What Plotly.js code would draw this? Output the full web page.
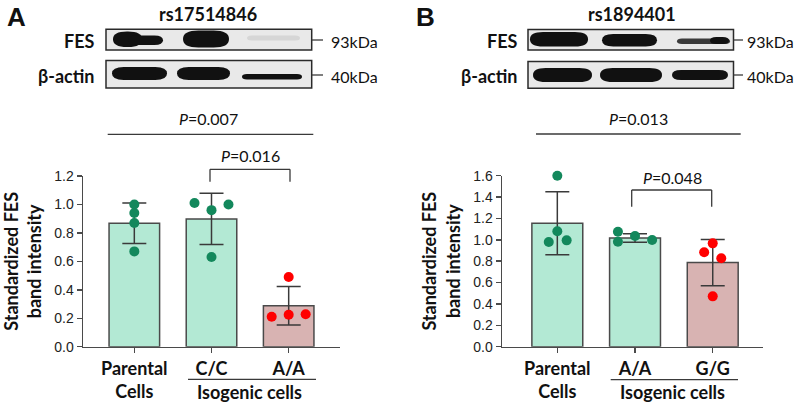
<!DOCTYPE html>
<html>
<head>
<meta charset="utf-8">
<script src="https://cdn.plot.ly/plotly-3.0.1.min.js"></script>
<style>html,body{margin:0;padding:0;background:#fff;}#chart{width:800px;height:402px;}</style>
</head>
<body>
<div id="chart"></div>
<script>
// ---------- data ----------
const titlesA = 'rs17514846';
const titlesB = 'rs1894401';
const catLabelsA = ['Parental<br>Cells', 'C/C', 'A/A'];
const catLabelsB = ['Parental<br>Cells', 'A/A', 'G/G'];
const meanA = [0.868, 0.898, 0.288];
const sdA = [0.143, 0.180, 0.136];
const meanB = [1.155, 1.018, 0.787];
const sdB = [0.295, 0.040, 0.217];
// individual points (per group)
const ptsA = [
  [1.00, 0.94, 0.87, 0.67],
  [1.01, 0.96, 1.00, 0.63],
  [0.49, 0.21, 0.225, 0.228]
];
const ptsB = [
  [1.60, 1.08, 0.98, 0.995],
  [1.076, 0.982, 1.035, 0.998],
  [0.883, 0.967, 0.827, 0.471]
];
const pTopA = '0.007', pPairA = '0.016';
const pTopB = '0.013', pPairB = '0.048';
const blotLabels = ['FES', 'β-actin'];
const kDaLabels = ['93kDa', '40kDa'];

// ---------- styles ----------
const W = 800, H = 402;
const px = x => x / W;
const py = y => 1 - y / H;
const MINT = '#b3e9d4', PINK = '#d8b3b2', GREEN = '#13885c', RED = '#ff0000';
const DARK = '#3a3a3a';
const BOLD = 'Lato, "Open Sans", sans-serif';
const ARIAL = '"Liberation Sans", Arial, sans-serif';
// horizontal jitter of the dots within each bar (category units)
const jitA = [[0, 0, 0, 0], [-0.22, 0, 0.22, 0], [0, -0.22, 0, 0.22]];
const jitB = [[0, 0, -0.11, 0.12], [-0.22, -0.22, 0, 0.22], [-0.11, 0, 0.11, 0]];

function barTrace(means, sds, xa, ya) {
  return {
    type: 'bar', x: [0, 1, 2], y: means, xaxis: xa, yaxis: ya, width: 0.655,
    marker: {color: [MINT, MINT, PINK], line: {color: '#4a4a4a', width: 1.5}},
    error_y: {type: 'data', array: sds, visible: true, color: DARK, thickness: 1.5, width: 12},
    hoverinfo: 'skip'
  };
}
function dotTraces(pts, jit, xa, ya) {
  return pts.map((g, i) => ({
    type: 'scatter', mode: 'markers', xaxis: xa, yaxis: ya,
    x: g.map((v, j) => i + jit[i][j]), y: g,
    marker: {size: 10, color: i === 2 ? RED : GREEN, line: {width: 0}},
    cliponaxis: false, hoverinfo: 'skip'
  }));
}

const data = [
  barTrace(meanA, sdA, 'x', 'y'),
  ...dotTraces(ptsA, jitA, 'x', 'y'),
  barTrace(meanB, sdB, 'x2', 'y2'),
  ...dotTraces(ptsB, jitB, 'x2', 'y2')
];

function xax(domain, range, labels) {
  return {
    domain: domain, range: range, tickvals: [0, 1, 2], ticktext: labels,
    ticks: 'outside', ticklen: 5, tickwidth: 1.5, tickcolor: '#4a4a4a',
    showline: true, linecolor: '#4a4a4a', linewidth: 1.5, showgrid: false, zeroline: false,
    tickfont: {family: BOLD, size: 18, weight: 'bold', color: '#111'}, fixedrange: true
  };
}
function yax(domain, range, anchor) {
  return {
    domain: domain, range: range, dtick: 0.2, tickformat: '.1f', anchor: anchor,
    ticks: 'outside', ticklen: 5, tickwidth: 1.5, tickcolor: '#4a4a4a',
    showline: true, linecolor: '#4a4a4a', linewidth: 1.5, showgrid: false, zeroline: false,
    tickfont: {family: ARIAL, size: 14, color: '#222'},
    title: {text: 'Standardized FES<br>band intensity', standoff: 8,
            font: {family: BOLD, size: 18, weight: 'bold', color: '#111'}},
    fixedrange: true
  };
}

const shapes = [];
const annotations = [];
function line(x0, y0, x1, y1) {
  shapes.push({type: 'line', xref: 'paper', yref: 'paper', x0: px(x0), y0: py(y0), x1: px(x1), y1: py(y1),
               line: {color: DARK, width: 1.3}});
}
function box(x0, y0, x1, y1) {
  shapes.push({type: 'rect', xref: 'paper', yref: 'paper', x0: px(x0), y0: py(y0), x1: px(x1), y1: py(y1),
               fillcolor: '#e9e9e9', line: {color: '#2a2a2a', width: 1.5}, layer: 'below'});
}
function band(x0, y0, x1, y1, color) {
  const r = Math.min((x1 - x0) / 2, (y1 - y0) * 0.9), ym = (y0 + y1) / 2;
  const P = (x, y) => px(x) + ',' + py(y);
  const path = 'M' + P(x0 + r, y0) + ' L' + P(x1 - r, y0) + ' Q' + P(x1, y0) + ' ' + P(x1, ym) +
    ' Q' + P(x1, y1) + ' ' + P(x1 - r, y1) + ' L' + P(x0 + r, y1) + ' Q' + P(x0, y1) + ' ' + P(x0, ym) +
    ' Q' + P(x0, y0) + ' ' + P(x0 + r, y0) + ' Z';
  shapes.push({type: 'path', xref: 'paper', yref: 'paper', path: path, fillcolor: color || '#111',
               line: {width: 0}, layer: 'below'});
}
function text(t, x, y, opts) {
  annotations.push(Object.assign({text: t, xref: 'paper', yref: 'paper', x: px(x), y: py(y),
    showarrow: false, xanchor: 'center', yanchor: 'middle',
    font: {family: BOLD, size: 16, color: '#111'}}, opts || {}));
}

// ---- panel A decorations ----
text('A', 16, 17, {font: {family: ARIAL, size: 26, weight: 'bold', color: '#111'}});
text(titlesA, 208, 1, {yanchor: 'top', font: {family: BOLD, size: 18, weight: 'bold', color: '#111'}});
box(106, 29.3, 311.7, 50);
box(106, 60.5, 311.7, 88);
band(113, 31.5, 142, 47); band(128, 35.5, 163, 45); band(183, 30.5, 229, 47.5);
band(247, 35.5, 300, 40.5, '#d6d6d6');
band(112, 67, 167, 80); band(177, 67, 230, 80); band(242, 74, 302, 79.5);
line(311.7, 40, 323, 40); line(311.7, 75, 323, 75);
text(blotLabels[0], 96.7, 41, {xanchor: 'right', font: {family: BOLD, size: 18, weight: 'bold', color: '#111'}});
text(blotLabels[1], 96.7, 76, {xanchor: 'right', font: {family: BOLD, size: 18, weight: 'bold', color: '#111'}});
text(kDaLabels[0], 329, 41, {xanchor: 'left', font: {family: BOLD, size: 16, color: '#111'}});
text(kDaLabels[1], 329, 76, {xanchor: 'left', font: {family: BOLD, size: 16, color: '#111'}});
text('<i>P</i>=' + pTopA, 208, 118);
line(107.7, 134.3, 313.3, 134.3);
text('<i>P</i>=' + pPairA, 250, 155);
line(210, 181.7, 210, 169.3); line(210, 169.3, 290, 169.3); line(290, 169.3, 290, 181.7);
line(188, 379.3, 316, 379.3);
text('Isogenic cells', 249, 391.5, {font: {family: BOLD, size: 18, weight: 'bold', color: '#111'}});

// ---- panel B decorations ----
text('B', 425, 17, {font: {family: ARIAL, size: 26, weight: 'bold', color: '#111'}});
text(titlesB, 632, 1, {yanchor: 'top', font: {family: BOLD, size: 18, weight: 'bold', color: '#111'}});
box(528, 29.5, 733.5, 50);
box(528, 61.5, 733.5, 88.3);
band(530, 32, 588, 46.5); band(602, 34, 657, 46.5); band(677, 38.5, 730, 44, '#3a3a3a');
band(710, 37, 729, 44);
band(533, 68, 592, 82); band(600, 68, 662, 82); band(672, 70, 728, 80);
line(733.5, 40, 743, 40); line(733.5, 75, 743, 75);
text(blotLabels[0], 520, 41, {xanchor: 'right', font: {family: BOLD, size: 18, weight: 'bold', color: '#111'}});
text(blotLabels[1], 520, 76, {xanchor: 'right', font: {family: BOLD, size: 18, weight: 'bold', color: '#111'}});
text(kDaLabels[0], 745, 41, {xanchor: 'left', font: {family: BOLD, size: 16, color: '#111'}});
text(kDaLabels[1], 745, 76, {xanchor: 'left', font: {family: BOLD, size: 16, color: '#111'}});
text('<i>P</i>=' + pTopB, 638, 118);
line(536, 134, 740.7, 134);
text('<i>P</i>=' + pPairB, 672, 177);
line(631.7, 206.7, 631.7, 190); line(631.7, 190, 711.7, 190); line(711.7, 190, 711.7, 206.7);
line(610.7, 379.7, 738, 379.7);
text('Isogenic cells', 672, 391.5, {font: {family: BOLD, size: 18, weight: 'bold', color: '#111'}});

const layout = {
  width: W, height: H, margin: {l: 0, r: 0, t: 0, b: 0},
  paper_bgcolor: '#fff', plot_bgcolor: '#fff', showlegend: false,
  xaxis: xax([px(83), px(340)], [-0.665, 2.665], catLabelsA),
  yaxis: yax([py(346.7), py(176)], [0, 1.2], 'x'),
  xaxis2: Object.assign(xax([px(502), px(763)], [-0.712, 2.647], catLabelsB), {anchor: 'y2'}),
  yaxis2: yax([py(346.7), py(175.7)], [0, 1.6], 'x2'),
  shapes: shapes, annotations: annotations
};
layout.xaxis.anchor = 'y';

Plotly.newPlot('chart', data, layout, {staticPlot: true, displayModeBar: false});
</script>
</body>
</html>
